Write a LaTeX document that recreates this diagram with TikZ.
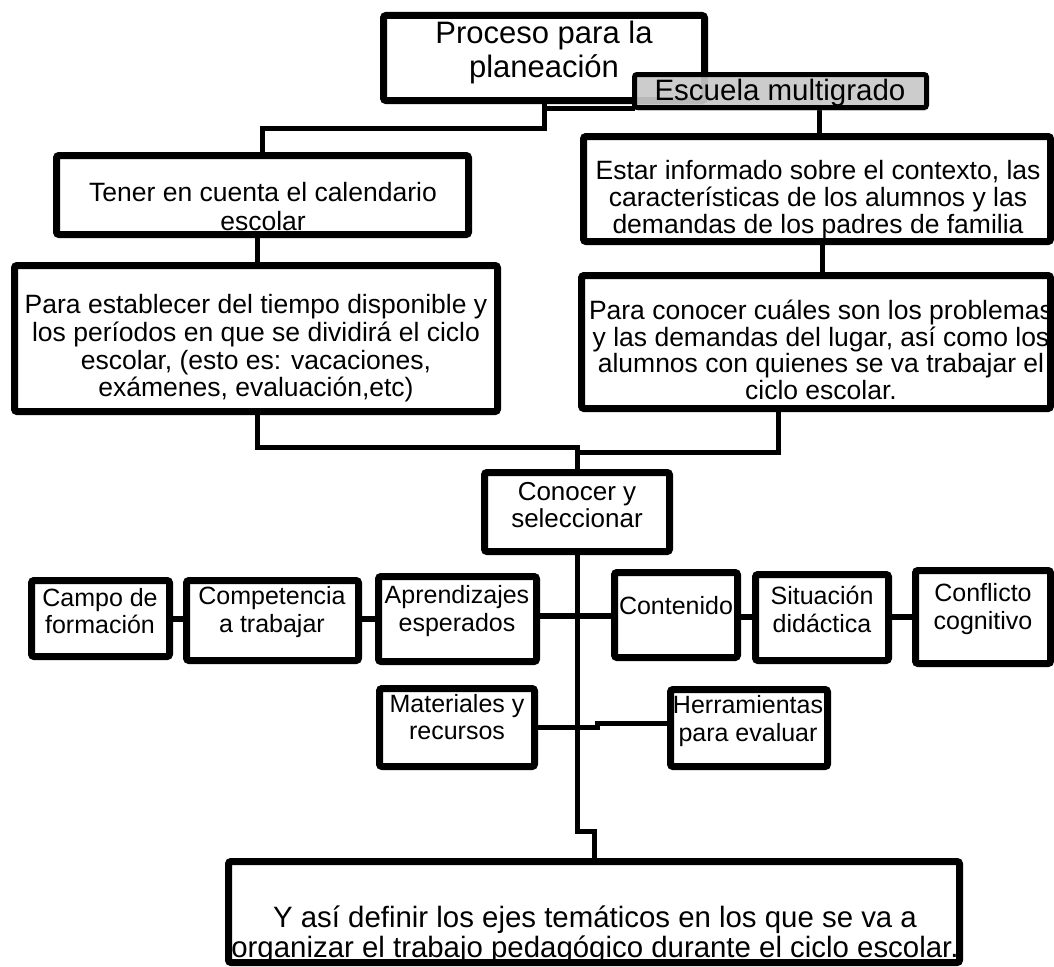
\documentclass[tikz,border=0pt]{standalone}
\usepackage{fontspec}
\setmainfont{Liberation Sans}
\usetikzlibrary{shadows}
\pgfdeclarelayer{background}
\pgfdeclarelayer{paper}
\pgfsetlayers{paper,background,main}
\tikzset{
  box/.style={draw=black, line width=7pt, rounded corners=2.5pt, fill=white, inner sep=0pt, outer sep=0pt,
    drop shadow={opacity=0.35, shadow xshift=1.5pt, shadow yshift=-3pt}},
  graybox/.style={box, line width=5pt, fill=black!20, fill opacity=0.88},
  conn/.style={line width=5pt, line join=miter, draw=black},
  rowc/.style={line width=6pt, draw=black},
  t/.style={align=center, inner sep=0pt, text=black},
}
\newcommand{\fsz}[2]{\fontsize{#1pt}{#2pt}\selectfont}
\begin{document}
\begin{tikzpicture}[x=1pt,y=-1pt]
\begin{pgfonlayer}{paper}
\fill[white] (0,0) rectangle (1054,966);
\end{pgfonlayer}
\useasboundingbox (0,0) rectangle (1054,966);

% boxes
\node[box, minimum width=321pt, minimum height=85pt] (b1) at (544,58) {};
\node[graybox, minimum width=292pt, minimum height=33pt] (b2) at (780.5,91) {};
\node[box, minimum width=412pt, minimum height=79pt] (b3) at (262.5,195) {};
\node[box, minimum width=467pt, minimum height=105pt] (b4) at (817,189) {};
\node[box, minimum width=483pt, minimum height=146pt] (b5) at (256,338.5) {};
\node[box, minimum width=469pt, minimum height=133pt] (b6) at (816,342) {};
\node[box, minimum width=185pt, minimum height=79pt] (cs) at (577,512) {};
\node[box, minimum width=138pt, minimum height=76pt] (campo) at (100.5,618.5) {};
\node[box, minimum width=172pt, minimum height=80pt] (comp) at (272.5,620.5) {};
\node[box, minimum width=158pt, minimum height=85pt] (apr) at (457.5,619) {};
\node[box, minimum width=123pt, minimum height=85pt] (cont) at (676,615) {};
\node[box, minimum width=133pt, minimum height=86pt] (sit) at (822,617.5) {};
\node[box, minimum width=135pt, minimum height=93pt] (conf) at (983,617) {};
\node[box, minimum width=155pt, minimum height=78pt] (mat) at (457,727.5) {};
\node[box, minimum width=157pt, minimum height=77pt] (herr) at (749,728) {};
\node[box, minimum width=731pt, minimum height=101pt] (fin) at (594,912) {};

% bend points
\coordinate (k1) at (544,108);
\coordinate (k2) at (544,128);
\coordinate (k3) at (819,0);
\coordinate (k4) at (257,0);
\coordinate (k5) at (822,0);
\coordinate (k6) at (257,447);
\coordinate (k7) at (778,452);
\coordinate (k8) at (577,831);
\coordinate (k9) at (594,831);
\coordinate (r1) at (0,619);
\coordinate (r2) at (0,616);
\coordinate (r3) at (0,617);
\coordinate (k12) at (597,727);
\coordinate (k13) at (597,723);

\begin{pgfonlayer}{background}
\draw[conn] (b2.west |- k1) -- (k1) -- (k2) -| (b3.north);
\draw[conn] (b1.south -| k1) -- (k1);
\draw[conn] (b2.south -| k3) -- (b4.north -| k3);
\draw[conn] (b3.south -| k4) -- (b5.north -| k4);
\draw[conn] (b4.south -| k5) -- (b6.north -| k5);
\draw[conn] (b5.south -| k6) -- (k6) -| (cs.north);
\draw[conn] (b6.south -| k7) -- (k7) -- (k7 -| cs.north);
\draw[conn] (cs.south) -- (k8) -- (k9) -- (fin.north -| k9);
\draw[rowc] (campo.east |- r1) -- (comp.west |- r1);
\draw[rowc] (comp.east |- r1) -- (apr.west |- r1);
\draw[rowc] (apr.east |- r2) -- (cont.west |- r2);
\draw[rowc] (cont.east |- r3) -- (sit.west |- r3);
\draw[rowc] (sit.east |- r3) -- (conf.west |- r3);
\draw[conn] (mat.east |- k12) -- (k12) -- (k13) -- (herr.west |- k13);
\end{pgfonlayer}

% texts
\node[t, font=\fsz{31}{34}] (t1) at (544,52) {Proceso para la\\planeación};
\node[t, font=\fsz{29.5}{32}] (t2) at (780,93) {Escuela multigrado};
\node[t, font=\fsz{26.5}{29}] (t3) at (263,206.5) {Tener en cuenta el calendario\\escolar};
\node[t, font=\fsz{26.5}{27.7}] (t5) at (256,348.5) {Para establecer del tiempo disponible y\\los períodos en que se dividirá el ciclo\\escolar, (esto es: vacaciones,\\exámenes, evaluación,etc)};
\node[t, font=\fsz{26.5}{27}] (t4) at (818,200) {Estar informado sobre el contexto, las\\características de los alumnos y las\\demandas de los padres de familia};
\node[t, font=\fsz{26.5}{26.7}] (t6) at (821,350) {Para conocer cuáles son los problemas\\y las demandas del lugar, así como los\\alumnos con quienes se va trabajar el\\ciclo escolar.};
\node[t, font=\fsz{26}{27}] (tcs) at (577,505) {Conocer y\\seleccionar};
\node[t, font=\fsz{25}{27.5}] (tcampo) at (100,611) {Campo de\\formación};
\node[t, font=\fsz{25}{27.5}] (tcomp) at (272,612) {Competencia\\a trabajar};
\node[t, font=\fsz{25}{27.5}] (tapr) at (457,611) {Aprendizajes\\esperados};
\node[t, font=\fsz{25}{27.5}] (tcont) at (676,606) {Contenido};
\node[t, font=\fsz{25}{27.5}] (tsit) at (822,609.5) {Situación\\didáctica};
\node[t, font=\fsz{25}{27.5}] (tconf) at (983,609) {Conflicto\\cognitivo};
\node[t, font=\fsz{25}{27.5}] (tmat) at (457,717) {Materiales y\\recursos};
\node[t, font=\fsz{25}{27.5}] (therr) at (748,721) {Herramientas\\para evaluar};
\node[t, font=\fsz{29.4}{30}] (tfin) at (595,935) {Y así definir los ejes temáticos en los que se va a\\organizar el trabajo pedagógico durante el ciclo escolar.};
\end{tikzpicture}
\end{document}
